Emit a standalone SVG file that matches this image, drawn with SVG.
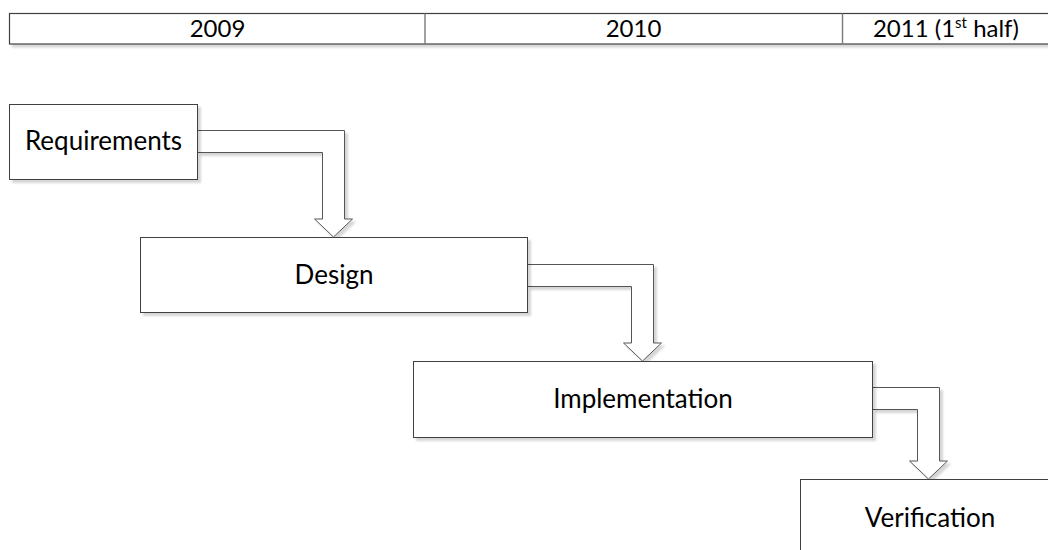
<svg xmlns="http://www.w3.org/2000/svg" width="1048" height="550" viewBox="0 0 1048 550">
  <defs>
    <filter id="shade" x="-5%" y="-5%" width="115%" height="130%">
      <feDropShadow dx="3" dy="3" stdDeviation="1" flood-color="#000" flood-opacity="0.16"/>
    </filter>
  </defs>
  <style>
    .box { fill: #fff; stroke: #404040; stroke-width: 1; }
    .cell { fill: #fff; stroke: #404040; stroke-width: 1.2; }
    .div { stroke: #7a7a7a; stroke-width: 1.4; }
    .flow { fill: #fff; stroke: #555; stroke-width: 1; stroke-linejoin: miter; }
    .lbl { font-family: Lato, "Open Sans", "Liberation Sans", sans-serif; font-size: 26px; fill: #000; text-anchor: middle; }
    .hdr { font-size: 24px; }
  </style>
  <rect width="1048" height="550" fill="#fff"/>

  <!-- timeline header -->
  <g id="timeline">
    <rect class="cell" x="9.5" y="13.5" width="1050" height="30.5" filter="url(#shade)"/>
    <line class="div" x1="425" y1="13.5" x2="425" y2="44"/>
    <line class="div" x1="842.5" y1="13.5" x2="842.5" y2="44"/>
    <text class="lbl hdr" x="217.5" y="37">2009</text>
    <text class="lbl hdr" x="633.5" y="37">2010</text>
    <text class="lbl hdr" x="946" y="37">2011 (1<tspan font-size="15" dy="-9">st</tspan><tspan dy="9"> half)</tspan></text>
  </g>

  <!-- block arrows between phases -->
  <g id="connectors" filter="url(#shade)">
    <path class="flow" d="M197.5,130.5 H344.5 V219 H352.5 L333.5,237 L314.5,219 H322.5 V152.5 H197.5"/>
    <path class="flow" d="M527.5,264.5 H653.5 V343 H661.5 L642.5,361 L623.5,343 H631.5 V286.5 H527.5"/>
    <path class="flow" d="M872.5,387.5 H939.5 V461 H947.5 L928.5,479 L909.5,461 H917.5 V409.5 H872.5"/>
  </g>

  <g id="requirements">
    <rect class="box" x="9.5" y="104.5" width="188" height="75" filter="url(#shade)"/>
    <text class="lbl" x="103.5" y="150">Requirements</text>
  </g>

  <g id="design">
    <rect class="box" x="140.5" y="237.5" width="387" height="75" filter="url(#shade)"/>
    <text class="lbl" x="334" y="284">Design</text>
  </g>

  <g id="implementation">
    <rect class="box" x="413.5" y="361.5" width="459" height="76" filter="url(#shade)"/>
    <text class="lbl" x="643" y="408">Implementation</text>
  </g>

  <g id="verification">
    <rect class="box" x="800.5" y="479.5" width="258" height="80" filter="url(#shade)"/>
    <text class="lbl" x="930" y="527">Verification</text>
  </g>
</svg>
